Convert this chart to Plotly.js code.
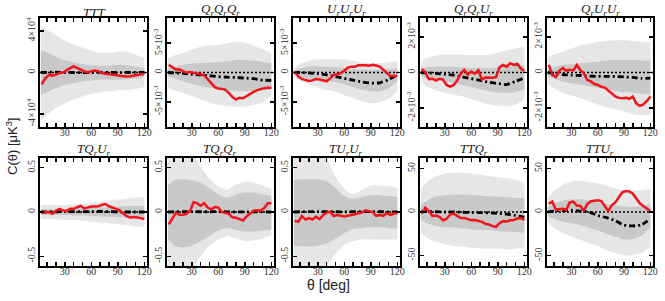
<!DOCTYPE html>
<html>
<head>
<meta charset="utf-8">
<script src="https://cdn.plot.ly/plotly-3.0.1.min.js"></script>
<style>html,body{margin:0;padding:0;background:#fff;}#chart{width:665px;height:301px;}</style>
</head>
<body>
<div id="chart"></div>
<script>
// ---------- shared angle grids (deg) ----------
const thetaLine = [4,8,12,16,20,24,28,32,36,40,44,48,52,56,60,64,68,72,76,80,84,88,92,96,100,104,108,112,116,120];
const thetaBand = [3,10,20,30,40,50,60,70,80,90,100,110,120];
const xTickVals = [10,20,30,40,50,60,70,80,90,100,110,120];
const xTickText = ['','','30','','','60','','','90','','','120'];

// ---------- TTT ----------
const TTT_red  = [-11500,-5500,-2500,-3000,-2000,-500,0,2500,4200,5800,4200,2800,1200,300,1000,1900,1200,-600,-1200,-1500,-1900,-2500,-3200,-3800,-3900,-3600,-3200,-2800,-2000,-1300];
const TTT_mean = [0,200,300,100,0,-100,0,200,100,-100,0,100,0];
const TTT_hi2  = [45000,41000,36000,31000,27000,24000,21000,19000,19000,20000,20000,17000,14000];
const TTT_lo2  = [-46000,-41000,-34000,-30000,-26000,-23000,-20500,-19000,-18000,-17000,-17000,-16000,-14000];
const TTT_hi1  = [22000,19000,15000,12000,9600,8000,7000,6400,6400,7400,7000,5800,4800];
const TTT_lo1  = [-22000,-19000,-15000,-12000,-10000,-8700,-7700,-7000,-7000,-7000,-6400,-5800,-4500];

// ---------- QrQrQr ----------
const QQQ_red  = [1.3e-3,0.9e-3,0.5e-3,0.55e-3,0.3e-3,-0.05e-3,0.1e-3,0.0,-0.2e-3,-0.3e-3,-0.5e-3,-1.1e-3,-1.8e-3,-2.5e-3,-2.75e-3,-2.8e-3,-2.95e-3,-3.5e-3,-4.2e-3,-4.6e-3,-4.3e-3,-4.4e-3,-4.0e-3,-3.7e-3,-3.3e-3,-3.0e-3,-2.8e-3,-2.7e-3,-2.6e-3,-2.6e-3];
const QQQ_mean = [0,-0.05e-3,-0.15e-3,-0.3e-3,-0.4e-3,-0.55e-3,-0.7e-3,-0.8e-3,-0.85e-3,-0.95e-3,-1.05e-3,-1.3e-3,-1.35e-3];
const QQQ_hi2  = [2.4e-3,2.9e-3,3.3e-3,3.9e-3,4.4e-3,4.6e-3,4.7e-3,5.0e-3,5.3e-3,5.1e-3,4.6e-3,4.0e-3,3.3e-3];
const QQQ_lo2  = [-2.6e-3,-3.0e-3,-3.5e-3,-4.0e-3,-4.6e-3,-5.1e-3,-5.5e-3,-5.7e-3,-5.8e-3,-5.8e-3,-5.5e-3,-5.1e-3,-4.1e-3];
const QQQ_hi1  = [0.6e-3,1.0e-3,1.3e-3,1.5e-3,1.6e-3,1.7e-3,1.75e-3,1.9e-3,2.1e-3,2.1e-3,2.0e-3,1.8e-3,1.6e-3];
const QQQ_lo1  = [-0.6e-3,-1.0e-3,-1.5e-3,-1.9e-3,-2.3e-3,-2.6e-3,-2.8e-3,-3.0e-3,-3.2e-3,-3.2e-3,-3.1e-3,-3.0e-3,-2.9e-3];

// ---------- UrUrUr ----------
const UUU_red  = [0.2e-3,-0.7e-3,-1.1e-3,-1.3e-3,-1.45e-3,-1.35e-3,-1.1e-3,-1.2e-3,-1.3e-3,-1.5e-3,-1.0e-3,-0.4e-3,-0.3e-3,-0.1e-3,0.3e-3,0.85e-3,1.0e-3,1.0e-3,1.25e-3,1.3e-3,1.25e-3,1.15e-3,1.3e-3,1.2e-3,1.0e-3,0.5e-3,-0.1e-3,-0.6e-3,-0.55e-3,-0.6e-3];
const UUU_mean = [0,0,-0.05e-3,-0.2e-3,-0.4e-3,-0.7e-3,-1.0e-3,-1.3e-3,-1.6e-3,-1.8e-3,-1.75e-3,-1.2e-3,-0.4e-3];
const UUU_hi2  = [0.7e-3,1.5e-3,2.0e-3,2.2e-3,2.3e-3,2.3e-3,2.2e-3,2.0e-3,1.7e-3,1.6e-3,1.6e-3,1.7e-3,1.9e-3];
const UUU_lo2  = [-0.6e-3,-1.4e-3,-2.0e-3,-2.5e-3,-3.0e-3,-3.3e-3,-3.9e-3,-4.4e-3,-4.9e-3,-5.2e-3,-5.1e-3,-4.5e-3,-3.2e-3];
const UUU_hi1  = [0.3e-3,0.7e-3,1.0e-3,1.0e-3,1.0e-3,0.9e-3,0.8e-3,0.6e-3,0.45e-3,0.45e-3,0.5e-3,0.6e-3,0.7e-3];
const UUU_lo1  = [-0.35e-3,-0.8e-3,-1.0e-3,-1.2e-3,-1.4e-3,-1.6e-3,-2.0e-3,-2.5e-3,-3.0e-3,-3.2e-3,-3.2e-3,-2.7e-3,-1.4e-3];

// ---------- QrQrUr ----------
const QQU_red  = [0.2e-3,0.0,-0.38e-3,-0.35e-3,-0.45e-3,-0.35e-3,-0.4e-3,-0.7e-3,-0.8e-3,-0.72e-3,-0.45e-3,-0.08e-3,0.14e-3,-0.12e-3,0.05e-3,-0.07e-3,0.13e-3,-0.4e-3,-0.28e-3,-0.3e-3,-0.3e-3,-0.26e-3,0.3e-3,0.43e-3,0.33e-3,0.52e-3,0.43e-3,0.5e-3,0.22e-3,0.08e-3];
const QQU_mean = [0,-0.02e-3,-0.05e-3,-0.1e-3,-0.15e-3,-0.25e-3,-0.35e-3,-0.45e-3,-0.55e-3,-0.62e-3,-0.68e-3,-0.5e-3,-0.3e-3];
const QQU_hi2  = [0.6e-3,0.85e-3,0.95e-3,1.0e-3,1.0e-3,1.0e-3,0.98e-3,0.98e-3,1.0e-3,1.1e-3,1.25e-3,1.35e-3,1.45e-3];
const QQU_lo2  = [-0.55e-3,-0.8e-3,-1.0e-3,-1.15e-3,-1.25e-3,-1.35e-3,-1.5e-3,-1.65e-3,-1.8e-3,-1.88e-3,-1.9e-3,-1.8e-3,-1.5e-3];
const QQU_hi1  = [0.15e-3,0.3e-3,0.33e-3,0.33e-3,0.33e-3,0.3e-3,0.25e-3,0.24e-3,0.24e-3,0.28e-3,0.33e-3,0.38e-3,0.42e-3];
const QQU_lo1  = [-0.18e-3,-0.35e-3,-0.42e-3,-0.5e-3,-0.6e-3,-0.7e-3,-0.82e-3,-0.95e-3,-1.05e-3,-1.12e-3,-1.15e-3,-1.1e-3,-0.95e-3];

// ---------- QrUrUr ----------
const QUU_red  = [0.43e-3,-0.13e-3,-0.25e-3,0.1e-3,0.25e-3,0.1e-3,0.15e-3,0.12e-3,0.43e-3,0.15e-3,-0.04e-3,-0.42e-3,-0.5e-3,-0.65e-3,-0.7e-3,-0.8e-3,-0.85e-3,-1.0e-3,-1.2e-3,-1.35e-3,-1.43e-3,-1.45e-3,-1.42e-3,-1.48e-3,-1.35e-3,-1.75e-3,-1.88e-3,-1.8e-3,-1.6e-3,-1.35e-3];
const QUU_mean = [0,-0.05e-3,-0.12e-3,-0.15e-3,-0.17e-3,-0.2e-3,-0.22e-3,-0.22e-3,-0.22e-3,-0.25e-3,-0.28e-3,-0.33e-3,-0.32e-3];
const QUU_hi2  = [0.85e-3,1.0e-3,1.17e-3,1.35e-3,1.52e-3,1.62e-3,1.72e-3,1.78e-3,1.82e-3,1.82e-3,1.78e-3,1.75e-3,1.72e-3];
const QUU_lo2  = [-0.65e-3,-0.9e-3,-1.15e-3,-1.3e-3,-1.45e-3,-1.62e-3,-1.8e-3,-1.95e-3,-2.07e-3,-2.2e-3,-2.35e-3,-2.4e-3,-2.4e-3];
const QUU_hi1  = [0.15e-3,0.3e-3,0.43e-3,0.48e-3,0.52e-3,0.57e-3,0.61e-3,0.66e-3,0.7e-3,0.7e-3,0.7e-3,0.68e-3,0.67e-3];
const QUU_lo1  = [-0.2e-3,-0.35e-3,-0.5e-3,-0.6e-3,-0.68e-3,-0.78e-3,-0.87e-3,-0.96e-3,-1.05e-3,-1.1e-3,-1.15e-3,-1.2e-3,-1.24e-3];

// ---------- TQrUr ----------
const TQU_red  = [0.0,-0.005,0.0,-0.02,0.015,0.036,0.018,0.01,0.036,0.036,0.054,0.07,0.04,0.054,0.061,0.061,0.065,0.08,0.09,0.065,0.054,0.036,0.018,-0.018,-0.047,-0.061,-0.056,-0.061,-0.072,-0.08];
const TQU_mean = [0,0.002,0.003,0.005,0.005,0.004,0.005,0.006,0.004,0.002,0,0,0];
const TQU_hi2  = [0.08,0.08,0.08,0.08,0.085,0.09,0.1,0.11,0.13,0.14,0.15,0.16,0.17];
const TQU_lo2  = [-0.08,-0.08,-0.085,-0.09,-0.09,-0.1,-0.11,-0.12,-0.13,-0.14,-0.15,-0.16,-0.17];
const TQU_hi1  = [0.03,0.03,0.035,0.035,0.04,0.04,0.045,0.05,0.055,0.06,0.065,0.07,0.07];
const TQU_lo1  = [-0.03,-0.03,-0.035,-0.035,-0.04,-0.04,-0.045,-0.05,-0.055,-0.06,-0.065,-0.07,-0.07];

// ---------- TQrQr ----------
const TQQ_red  = [-0.14,-0.08,-0.01,-0.03,-0.03,-0.02,0.01,0.11,0.1,0.07,0.1,0.05,0.03,0.055,0.05,0.0,-0.01,-0.02,-0.06,-0.065,-0.08,-0.095,-0.05,-0.02,0.015,0.02,0.015,0.045,0.1,0.1];
const TQQ_mean = [0,0.003,0.004,0.004,0.003,0.003,0.004,0.002,0.002,0.002,0.002,0.001,0];
const TQQ_hi2  = [0.75,0.75,0.75,0.7,0.52,0.38,0.29,0.25,0.31,0.34,0.33,0.3,0.26];
const TQQ_lo2  = [-0.75,-0.75,-0.75,-0.7,-0.5,-0.38,-0.31,-0.27,-0.3,-0.33,-0.32,-0.3,-0.26];
const TQQ_hi1  = [0.3,0.36,0.37,0.36,0.33,0.27,0.2,0.16,0.2,0.22,0.22,0.2,0.18];
const TQQ_lo1  = [-0.3,-0.38,-0.4,-0.38,-0.33,-0.27,-0.21,-0.18,-0.2,-0.22,-0.22,-0.21,-0.2];

// ---------- TUrUr ----------
const TUU_red  = [-0.1,-0.11,-0.045,-0.085,-0.07,-0.085,-0.055,-0.08,-0.035,-0.007,0.004,-0.045,-0.035,-0.045,-0.05,-0.043,-0.03,-0.025,-0.015,-0.005,0.02,0.01,0.0,-0.043,-0.035,-0.043,-0.015,-0.033,-0.018,-0.015];
const TUU_mean = [0,0.003,0.004,0.004,0.003,0.003,0.002,0.003,0.004,0.004,0.003,0.002,0];
const TUU_hi2  = [0.75,0.75,0.75,0.72,0.6,0.4,0.26,0.2,0.25,0.3,0.3,0.29,0.27];
const TUU_lo2  = [-0.75,-0.75,-0.75,-0.72,-0.62,-0.47,-0.37,-0.33,-0.31,-0.31,-0.31,-0.31,-0.31];
const TUU_hi1  = [0.36,0.37,0.37,0.37,0.35,0.27,0.18,0.15,0.17,0.19,0.19,0.18,0.17];
const TUU_lo1  = [-0.38,-0.39,-0.39,-0.38,-0.36,-0.3,-0.24,-0.19,-0.18,-0.17,-0.17,-0.18,-0.19];

// ---------- TTQr ----------
const TTQ_red  = [-2,5,1,-4.6,-4,-5.5,-9.5,-8,-3,-1.9,-4.5,-7,-6.8,-8.3,-9.5,-9.2,-10.3,-11.3,-13.5,-14.3,-16.2,-17,-12.8,-10.5,-11,-9.5,-9.2,-7.5,-6.8,-9];
const TTQ_mean = [0.5,0.5,0.3,0,0,-0.3,-0.5,-0.7,-1,-1.5,-2.5,-4,-6];
const TTQ_hi2  = [26,35,41,44,45,45,44,43,41,40,39,37,34];
const TTQ_lo2  = [-24,-30,-34,-37,-39,-40,-41,-42,-42,-42,-43,-42,-41];
const TTQ_hi1  = [8,13,18,19,20,20,19.5,19,18,17.5,17,16.5,16];
const TTQ_lo1  = [-9,-13,-16,-17.5,-18,-19,-20,-20.5,-21,-22,-22.5,-23,-24];

// ---------- TTUr ----------
const TTU_red  = [9.5,12,3,3.5,3.7,2.6,11,12,7.5,7,2,9,12.3,13,13.5,12.5,7,1,8,11,17,22.5,24,23.5,21,16,10,7,4,1];
const TTU_mean = [0,1,1.5,2,1,0,-4,-6.5,-10,-15,-16,-14.5,-8];
const TTU_hi2  = [16,24,31,35,36,34.5,33,30,27,25,24,25,26];
const TTU_lo2  = [-12,-18,-24,-28,-32,-36,-39,-44,-47,-50,-49.5,-47,-40];
const TTU_hi1  = [6,10,13,14.5,15,13,11,9,7.5,6.5,5.6,6.5,9];
const TTU_lo1  = [-5,-8,-11,-13,-15,-18,-21,-25,-28.5,-31.5,-31,-27,-18];

// ---------- y tick labels ----------
const TTT_tv = [-4e4,0,4e4],  TTT_tt = ['-4×10<sup>4</sup>','0','4×10<sup>4</sup>'];
const Q5_tv  = [-5e-3,0,5e-3], Q5_tt = ['-5×10<sup>-3</sup>','0','5×10<sup>-3</sup>'];
const Q2_tv  = [-2e-3,0,2e-3], Q2_tt = ['-2×10<sup>-3</sup>','0','2×10<sup>-3</sup>'];
const H_tv   = [-0.5,0,0.5],   H_tt  = ['-0.5','0','0.5'];
const F_tv   = [-50,0,50],     F_tt  = ['-50','0','50'];

const titles = ['TTT','Q<sub>r</sub>Q<sub>r</sub>Q<sub>r</sub>','U<sub>r</sub>U<sub>r</sub>U<sub>r</sub>','Q<sub>r</sub>Q<sub>r</sub>U<sub>r</sub>','Q<sub>r</sub>U<sub>r</sub>U<sub>r</sub>',
                'TQ<sub>r</sub>U<sub>r</sub>','TQ<sub>r</sub>Q<sub>r</sub>','TU<sub>r</sub>U<sub>r</sub>','TTQ<sub>r</sub>','TTU<sub>r</sub>'];

const panels = [
  {red:TTT_red,mean:TTT_mean,hi2:TTT_hi2,lo2:TTT_lo2,hi1:TTT_hi1,lo1:TTT_lo1,ymax:52500,tv:TTT_tv,tt:TTT_tt},
  {red:QQQ_red,mean:QQQ_mean,hi2:QQQ_hi2,lo2:QQQ_lo2,hi1:QQQ_hi1,lo1:QQQ_lo1,ymax:9.3e-3,tv:Q5_tv,tt:Q5_tt},
  {red:UUU_red,mean:UUU_mean,hi2:UUU_hi2,lo2:UUU_lo2,hi1:UUU_hi1,lo1:UUU_lo1,ymax:9.3e-3,tv:Q5_tv,tt:Q5_tt},
  {red:QQU_red,mean:QQU_mean,hi2:QQU_hi2,lo2:QQU_lo2,hi1:QQU_hi1,lo1:QQU_lo1,ymax:3.07e-3,tv:Q2_tv,tt:Q2_tt},
  {red:QUU_red,mean:QUU_mean,hi2:QUU_hi2,lo2:QUU_lo2,hi1:QUU_hi1,lo1:QUU_lo1,ymax:3.07e-3,tv:Q2_tv,tt:Q2_tt},
  {red:TQU_red,mean:TQU_mean,hi2:TQU_hi2,lo2:TQU_lo2,hi1:TQU_hi1,lo1:TQU_lo1,ymax:0.61,tv:H_tv,tt:H_tt},
  {red:TQQ_red,mean:TQQ_mean,hi2:TQQ_hi2,lo2:TQQ_lo2,hi1:TQQ_hi1,lo1:TQQ_lo1,ymax:0.61,tv:H_tv,tt:H_tt},
  {red:TUU_red,mean:TUU_mean,hi2:TUU_hi2,lo2:TUU_lo2,hi1:TUU_hi1,lo1:TUU_lo1,ymax:0.61,tv:H_tv,tt:H_tt},
  {red:TTQ_red,mean:TTQ_mean,hi2:TTQ_hi2,lo2:TTQ_lo2,hi1:TTQ_hi1,lo1:TTQ_lo1,ymax:62,tv:F_tv,tt:F_tt},
  {red:TTU_red,mean:TTU_mean,hi2:TTU_hi2,lo2:TTU_lo2,hi1:TTU_hi1,lo1:TTU_lo1,ymax:62,tv:F_tv,tt:F_tt}
];

// ---------- layout geometry (pixels) ----------
const W = 665, H = 301;
const colPx = [[40,147],[167,274],[293,400],[420,527],[547,653]];
const rowPx = [[18,127],[158,266]];
const titleY = [12,151];
const xRange = [2,123];

const LIGHT = '#e6e6e6', DARK = '#c9c9c9', RED = '#f2141b';
const traces = [];
const layout = {
  width: W, height: H, autosize: false,
  margin: {l:0, r:0, t:0, b:0},
  paper_bgcolor: '#fff', plot_bgcolor: '#fff',
  showlegend: false,
  annotations: []
};
const tickFont = {family:'Liberation Serif, Times New Roman, serif', size:10, color:'#333'};

panels.forEach((p, i) => {
  const s = i === 0 ? '' : String(i+1);
  const xa = 'x' + s, ya = 'y' + s;
  const r = Math.floor(i / 5);
  const col = colPx[i % 5], row = rowPx[r];
  const common = {xaxis: xa, yaxis: ya, hoverinfo: 'skip', showlegend: false};
  traces.push(Object.assign({x: thetaBand, y: p.hi2, mode:'lines', line:{width:0, shape:'spline', smoothing:0.6}}, common));
  traces.push(Object.assign({x: thetaBand, y: p.lo2, mode:'lines', line:{width:0, shape:'spline', smoothing:0.6}, fill:'tonexty', fillcolor: LIGHT}, common));
  traces.push(Object.assign({x: thetaBand, y: p.hi1, mode:'lines', line:{width:0, shape:'spline', smoothing:0.6}}, common));
  traces.push(Object.assign({x: thetaBand, y: p.lo1, mode:'lines', line:{width:0, shape:'spline', smoothing:0.6}, fill:'tonexty', fillcolor: DARK}, common));
  traces.push(Object.assign({x: xRange, y: [0,0], mode:'lines', line:{color:'#000', width:1.6, dash:'2px,2px'}}, common));
  traces.push(Object.assign({x: thetaBand, y: p.mean, mode:'lines', line:{color:'#000', width:2.8, dash:'6px,3px,2px,3px', shape:'spline', smoothing:0.6}}, common));
  traces.push(Object.assign({x: thetaLine, y: p.red, mode:'lines', line:{color:RED, width:2.5}}, common));

  layout['xaxis' + s] = {
    domain: [col[0]/W, col[1]/W], anchor: ya, range: xRange,
    tickmode: 'array', tickvals: xTickVals, ticktext: xTickText,
    ticks: 'inside', ticklen: 4, tickwidth: 1.5, tickcolor: '#000',
    showline: true, linewidth: 2, linecolor: '#000', mirror: 'ticks',
    showgrid: false, zeroline: false, tickfont: tickFont, tickangle: 0, fixedrange: true,
    ticklabelstandoff: -5
  };
  layout['yaxis' + s] = {
    domain: [1 - row[1]/H, 1 - row[0]/H], anchor: xa, range: [-p.ymax, p.ymax],
    tickmode: 'array', tickvals: p.tv, ticktext: p.tt,
    ticks: 'inside', ticklen: 4, tickwidth: 1.5, tickcolor: '#000',
    showline: true, linewidth: 2, linecolor: '#000', mirror: 'ticks',
    showgrid: false, zeroline: false, tickfont: tickFont, tickangle: -90, fixedrange: true,
    ticklabelstandoff: -1
  };
  const hasSub = titles[i].indexOf('<sub>') >= 0;
  layout.annotations.push({
    xref:'paper', yref:'paper', x: (col[0]+col[1])/2/W, y: 1 - (titleY[r] - (hasSub ? 2 : 0))/H,
    xanchor:'center', yanchor:'middle', showarrow:false,
    text: '<i>' + titles[i] + '</i>',
    font: {family:'Liberation Serif, Times New Roman, serif', size:13, color:'#222'}
  });
});

layout.annotations.push({
  xref:'paper', yref:'paper', x: 12/W, y: 1 - 147/H, xanchor:'center', yanchor:'middle',
  showarrow:false, textangle:-90, text:'C(θ) [μK<sup>3</sup>]',
  font:{family:'Liberation Sans, Arial, sans-serif', size:13, color:'#222'}
});
layout.annotations.push({
  xref:'paper', yref:'paper', x: 328/W, y: 1 - 285/H, xanchor:'center', yanchor:'middle',
  showarrow:false, text:'θ [deg]',
  font:{family:'Liberation Sans, Arial, sans-serif', size:14, color:'#222'}
});

Plotly.newPlot('chart', traces, layout, {staticPlot:true, displayModeBar:false});
</script>
</body>
</html>
